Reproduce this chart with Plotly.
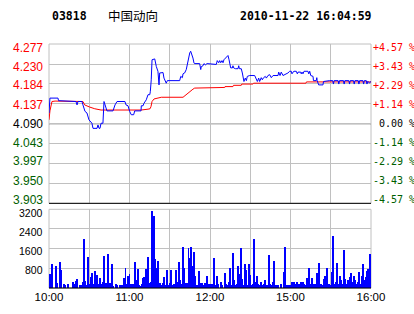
import plotly.graph_objects as go

# ---------------- data ----------------
code = "03818"
name = "中国动向"
stamp = "2010-11-22 16:04:59"
prev_close = 4.090

price_ticks = [4.277, 4.230, 4.184, 4.137, 4.090, 4.043, 3.997, 3.950, 3.903]
price_labels = ["4.277", "4.230", "4.184", "4.137", "4.090", "4.043", "3.997", "3.950", "3.903"]
pct_labels = ["+4.57 %", "+3.43 %", "+2.29 %", "+1.14 %", "\u00a00.00 %",
              "-1.14 %", "-2.29 %", "-3.43 %", "-4.57 %"]

vol_ticks = [800, 1600, 2400, 3200]
vol_labels = ["800", "1600", "2400", "3200"]

time_ticks = [0, 60, 120, 180, 240]
time_labels = ["10:00", "11:00", "12:00", "15:00", "16:00"]
grid_minutes = [0, 30, 60, 90, 120, 150, 180, 210, 240]

# price line (minutes since open, price)
price_t = [0, 0.7, 6.7, 7.1, 20.1, 20.9, 21.6, 24.6, 25.3, 26.8, 28.3, 29.8, 32.0, 32.8, 35.8,
           36.5, 37.3, 38.0, 38.8, 40.2, 41.0, 42.5, 43.2, 47.7, 49.2, 50.7, 56.6, 57.4, 58.9,
           60.1, 61.3, 63.1, 63.9, 68.6, 68.8, 70.1, 70.8, 72.5, 73.8, 75.1, 75.5, 76.2, 76.8,
           78.8, 79.2, 80.0, 81.2, 82.0, 82.5, 83.7, 85.0, 85.7, 86.7, 87.4, 88.2, 97.4, 98.2,
           99.4, 99.9, 101.1, 102.3, 103.1, 104.1, 104.9, 105.6, 106.6, 107.3, 108.1, 108.6,
           112.3, 113.1, 113.5, 114.8, 115.5, 116.5, 117.8, 124.7, 125.4, 126.5, 127.2, 128.0,
           128.9, 129.7, 130.4, 131.4, 132.1, 133.4, 134.2, 134.7, 135.4, 136.7, 137.1, 137.6,
           138.9, 140.9, 141.4, 141.9, 143.3, 144.1, 144.8, 145.3, 146.3, 147.1, 147.8, 149.6,
           153.3, 154.1, 155.3, 156.3, 157.0, 158.2, 159.0, 159.7, 161.2, 162.0, 163.2, 164.5,
           165.7, 167.0, 170.7, 171.2, 172.2, 173.1, 174.4, 178.1, 179.4, 180.6, 181.1, 181.9,
           182.6, 184.3, 185.1, 185.6, 187.6, 188.0, 188.6, 189.3, 190.1, 193.0, 193.6, 194.3,
           195.1, 196.8, 197.1, 199.2, 199.6, 199.9, 201.0, 204.2, 204.6, 209.2, 211.5, 212.0,
           212.5, 215.5, 216.0, 216.5, 219.5, 220.0, 220.5, 223.5, 224.0, 224.5, 227.0, 227.5,
           228.0, 230.5, 231.0, 231.5, 234.0, 234.5, 235.0, 236.5, 237.0, 237.5, 239.0, 240.0]
price_v = [4.115, 4.150, 4.150, 4.144, 4.142, 4.134, 4.142, 4.142, 4.134, 4.119, 4.115, 4.099,
           4.091, 4.079, 4.079, 4.087, 4.079, 4.079, 4.091, 4.091, 4.142, 4.130, 4.120, 4.120,
           4.134, 4.142, 4.142, 4.134, 4.132, 4.119, 4.111, 4.111, 4.120, 4.120, 4.132, 4.132,
           4.138, 4.146, 4.158, 4.158, 4.165, 4.193, 4.240, 4.242, 4.232, 4.224, 4.213, 4.181,
           4.209, 4.210, 4.210, 4.197, 4.189, 4.185, 4.191, 4.191, 4.201, 4.198, 4.207, 4.209,
           4.217, 4.228, 4.248, 4.256, 4.260, 4.252, 4.244, 4.232, 4.231, 4.231, 4.217, 4.224,
           4.226, 4.231, 4.228, 4.231, 4.229, 4.238, 4.233, 4.238, 4.233, 4.238, 4.233, 4.240,
           4.243, 4.246, 4.250, 4.240, 4.233, 4.221, 4.221, 4.226, 4.221, 4.219, 4.219, 4.226,
           4.219, 4.219, 4.209, 4.197, 4.189, 4.197, 4.191, 4.201, 4.203, 4.203, 4.198, 4.189,
           4.197, 4.189, 4.198, 4.193, 4.197, 4.201, 4.197, 4.203, 4.205, 4.198, 4.203, 4.203,
           4.211, 4.203, 4.211, 4.203, 4.209, 4.213, 4.213, 4.207, 4.211, 4.213, 4.213, 4.207,
           4.211, 4.211, 4.207, 4.211, 4.207, 4.213, 4.213, 4.207, 4.213, 4.203, 4.201, 4.191,
           4.191, 4.198, 4.191, 4.181, 4.181, 4.189, 4.191, 4.191, 4.183, 4.191, 4.191, 4.183,
           4.191, 4.191, 4.183, 4.191, 4.191, 4.183, 4.191, 4.191, 4.183, 4.191, 4.191, 4.183,
           4.191, 4.191, 4.183, 4.191, 4.191, 4.183, 4.189, 4.186, 4.189]

# average price line
avg_t = [0, 0.7, 2.2, 4.5, 25.3, 26.6, 30.3, 34.1, 38.8, 68.6, 73.8, 75.3, 76.0, 76.8, 78.3,
         81.2, 83.7, 99.9, 101.1, 103.1, 104.9, 107.3, 108.6, 122.2, 122.6, 131.0, 131.2,
         137.1, 137.5, 143.3, 143.7, 152.0, 152.4, 191.5, 191.9, 240]
avg_v = [4.099, 4.120, 4.142, 4.143, 4.142, 4.134, 4.129, 4.125, 4.122, 4.122, 4.124, 4.125,
         4.130, 4.142, 4.148, 4.150, 4.152, 4.152, 4.155, 4.162, 4.166, 4.171, 4.1735, 4.1735,
         4.175, 4.175, 4.177, 4.177, 4.180, 4.180, 4.183, 4.183, 4.185, 4.185, 4.188, 4.188]

# per-minute volume (minute 0 .. 240)
volume = [500, 540, 945, 0, 0, 900, 200, 0, 1050, 700, 0, 135, 110, 0, 135, 0, 0, 0, 240, 160,
          270, 340, 0, 95, 95, 215, 2000, 270, 95, 1230, 135, 420, 610, 135, 660, 180, 500, 135,
          380, 135, 240, 1270, 190, 190, 1350, 200, 200, 945, 70, 0, 135, 95, 0, 95, 95, 95,
          380, 820, 135, 460, 540, 160, 135, 135, 1025, 300, 780, 95, 70, 160, 380, 420, 780,
          270, 1240, 200, 240, 3130, 2930, 1150, 820, 1100, 135, 175, 95, 175, 420, 95, 700, 95,
          175, 700, 95, 135, 135, 700, 240, 1025, 300, 135, 1660, 820, 200, 200, 1600, 1190,
          1660, 900, 1470, 460, 95, 95, 660, 200, 175, 95, 175, 95, 460, 135, 135, 160, 135,
          1190, 95, 460, 135, 0, 240, 95, 0, 580, 160, 95, 240, 820, 95, 1430, 300, 95, 160,
          900, 540, 1630, 340, 95, 945, 700, 95, 945, 500, 95, 160, 1960, 240, 460, 160, 95, 240,
          95, 160, 300, 95, 95, 1310, 135, 95, 240, 1100, 95, 95, 95, 0, 160, 0, 620, 1660, 95,
          110, 95, 95, 240, 215, 240, 160, 240, 135, 160, 215, 240, 135, 95, 380, 215, 820, 135,
          380, 135, 160, 95, 580, 1000, 95, 160, 95, 340, 460, 820, 160, 135, 95, 620, 2120, 160,
          215, 1000, 135, 460, 300, 160, 1550, 340, 160, 300, 420, 580, 215, 460, 300, 160, 215,
          620, 135, 460, 980, 300, 420, 660, 780, 1390, 380]
minutes = list(range(len(volume)))

# ---------------- styling ----------------
RED = "#ff0000"
GREEN = "#006000"
BLACK = "#000000"
GRID = "#c0c0c0"

PX_PER_GRID = 19.9        # pixel gap between price grid lines
LABEL_STEP = 19.0         # pixel gap between the price labels in the reference
VOL_SHIFT = [-1.3, -2.0, -3.0, -3.7]


def colour_for(v):
    if abs(v - prev_close) < 1e-9:
        return BLACK
    return RED if v > prev_close else GREEN


fig = go.Figure()

fig.add_trace(go.Scatter(x=avg_t, y=avg_v, mode="lines", line=dict(color=RED, width=1),
                         xaxis="x", yaxis="y", hoverinfo="skip", showlegend=False))
fig.add_trace(go.Scatter(x=price_t, y=price_v, mode="lines", line=dict(color="#0000ff", width=1),
                         xaxis="x", yaxis="y", hoverinfo="skip", showlegend=False))
fig.add_trace(go.Bar(x=minutes, y=volume, width=0.7, marker=dict(color="#0000ff", line=dict(width=0)),
                     xaxis="x2", yaxis="y3", hoverinfo="skip", showlegend=False))

PRICE_DOM = [0.347, 1.0]
VOL_DOM = [0.0, 0.3225]

fig.update_layout(
    width=414, height=314,
    margin=dict(l=49, r=43, t=44, b=26, autoexpand=False),
    paper_bgcolor="white", plot_bgcolor="white",
    bargap=0,
    xaxis=dict(domain=[0, 1], anchor="y", range=[0, 240], tickvals=grid_minutes,
               showticklabels=False, showgrid=True, gridcolor=GRID, gridwidth=1,
               zeroline=False, showline=False, ticks="", automargin=False),
    xaxis2=dict(domain=[0, 1], anchor="y3", range=[0, 240], tickvals=grid_minutes,
                ticktext=[time_labels[time_ticks.index(m)] if m in time_ticks else "" for m in grid_minutes],
                tickmode="array", showgrid=True, gridcolor=GRID, gridwidth=1,
                zeroline=False, showline=False, ticks="", automargin=False,
                tickfont=dict(family="Liberation Sans", size=11.5, color=BLACK)),
    yaxis=dict(domain=PRICE_DOM, anchor="x", range=[price_ticks[-1], price_ticks[0]],
               tickvals=price_ticks, showticklabels=False, tickmode="array",
               showgrid=True, gridcolor=GRID, gridwidth=1, zeroline=False, showline=False,
               ticks="", automargin=False),
    yaxis3=dict(domain=VOL_DOM, anchor="x2", range=[0, vol_ticks[-1]],
                tickvals=vol_ticks, showticklabels=False, tickmode="array",
                showgrid=True, gridcolor=GRID, gridwidth=1, zeroline=False, showline=False,
                ticks="", automargin=False),
)

# panel borders
for xr, yr in (("x domain", "y domain"), ("x2 domain", "y3 domain")):
    fig.add_shape(type="rect", xref=xr, yref=yr, x0=0, x1=1, y0=0, y1=1,
                  line=dict(color=GRID, width=1), layer="below")
    fig.add_shape(type="line", xref=xr, yref=yr, x0=0, x1=1, y0=0, y1=0,
                  line=dict(color=BLACK, width=1), layer="above")
# previous close line
fig.add_shape(type="line", xref="x domain", yref="y", x0=0, x1=1, y0=prev_close, y1=prev_close,
              line=dict(color=BLACK, width=1), layer="below")

# price labels (left) and percent labels (right); reference packs them slightly toward the centre
n = len(price_ticks)
for k, (v, lt, rt) in enumerate(zip(price_ticks, price_labels, pct_labels)):
    off = (k - (n - 1) / 2) * (PX_PER_GRID - LABEL_STEP)   # pixels to pull toward the centre
    c = colour_for(v)
    fig.add_annotation(text=lt, xref="paper", yref="y", x=0, y=v, xanchor="right", yanchor="middle",
                       xshift=-4, yshift=off, showarrow=False,
                       font=dict(family="Liberation Sans", size=12, color=c))
    fig.add_annotation(text=rt, xref="paper", yref="y", x=1, y=v, xanchor="left", yanchor="middle",
                       xshift=0, yshift=off, showarrow=False,
                       font=dict(family="DejaVu Sans Mono", size=10, color=c))

for v, t, s in zip(vol_ticks, vol_labels, VOL_SHIFT):
    fig.add_annotation(text=t, xref="paper", yref="y3", x=0, y=v, xanchor="right", yanchor="middle",
                       xshift=-4, yshift=s, showarrow=False,
                       font=dict(family="Liberation Sans", size=10.5, color=BLACK))

# header
hy = 1.115
fig.add_annotation(text=f"<b>{code}</b>", xref="paper", yref="paper", x=0.003, y=hy,
                   xanchor="left", yanchor="middle", showarrow=False,
                   font=dict(family="DejaVu Sans Mono", size=11.5, color=BLACK))
fig.add_annotation(text=name, xref="paper", yref="paper", x=0.177, y=hy,
                   xanchor="left", yanchor="middle", showarrow=False,
                   font=dict(family="Noto Sans CJK SC", size=12.5, color=BLACK))
fig.add_annotation(text=f"<b>{stamp}</b>", xref="paper", yref="paper", x=0.587, y=hy,
                   xanchor="left", yanchor="middle", showarrow=False,
                   font=dict(family="DejaVu Sans Mono", size=11.5, color=BLACK))

fig.write_html("out.html")
